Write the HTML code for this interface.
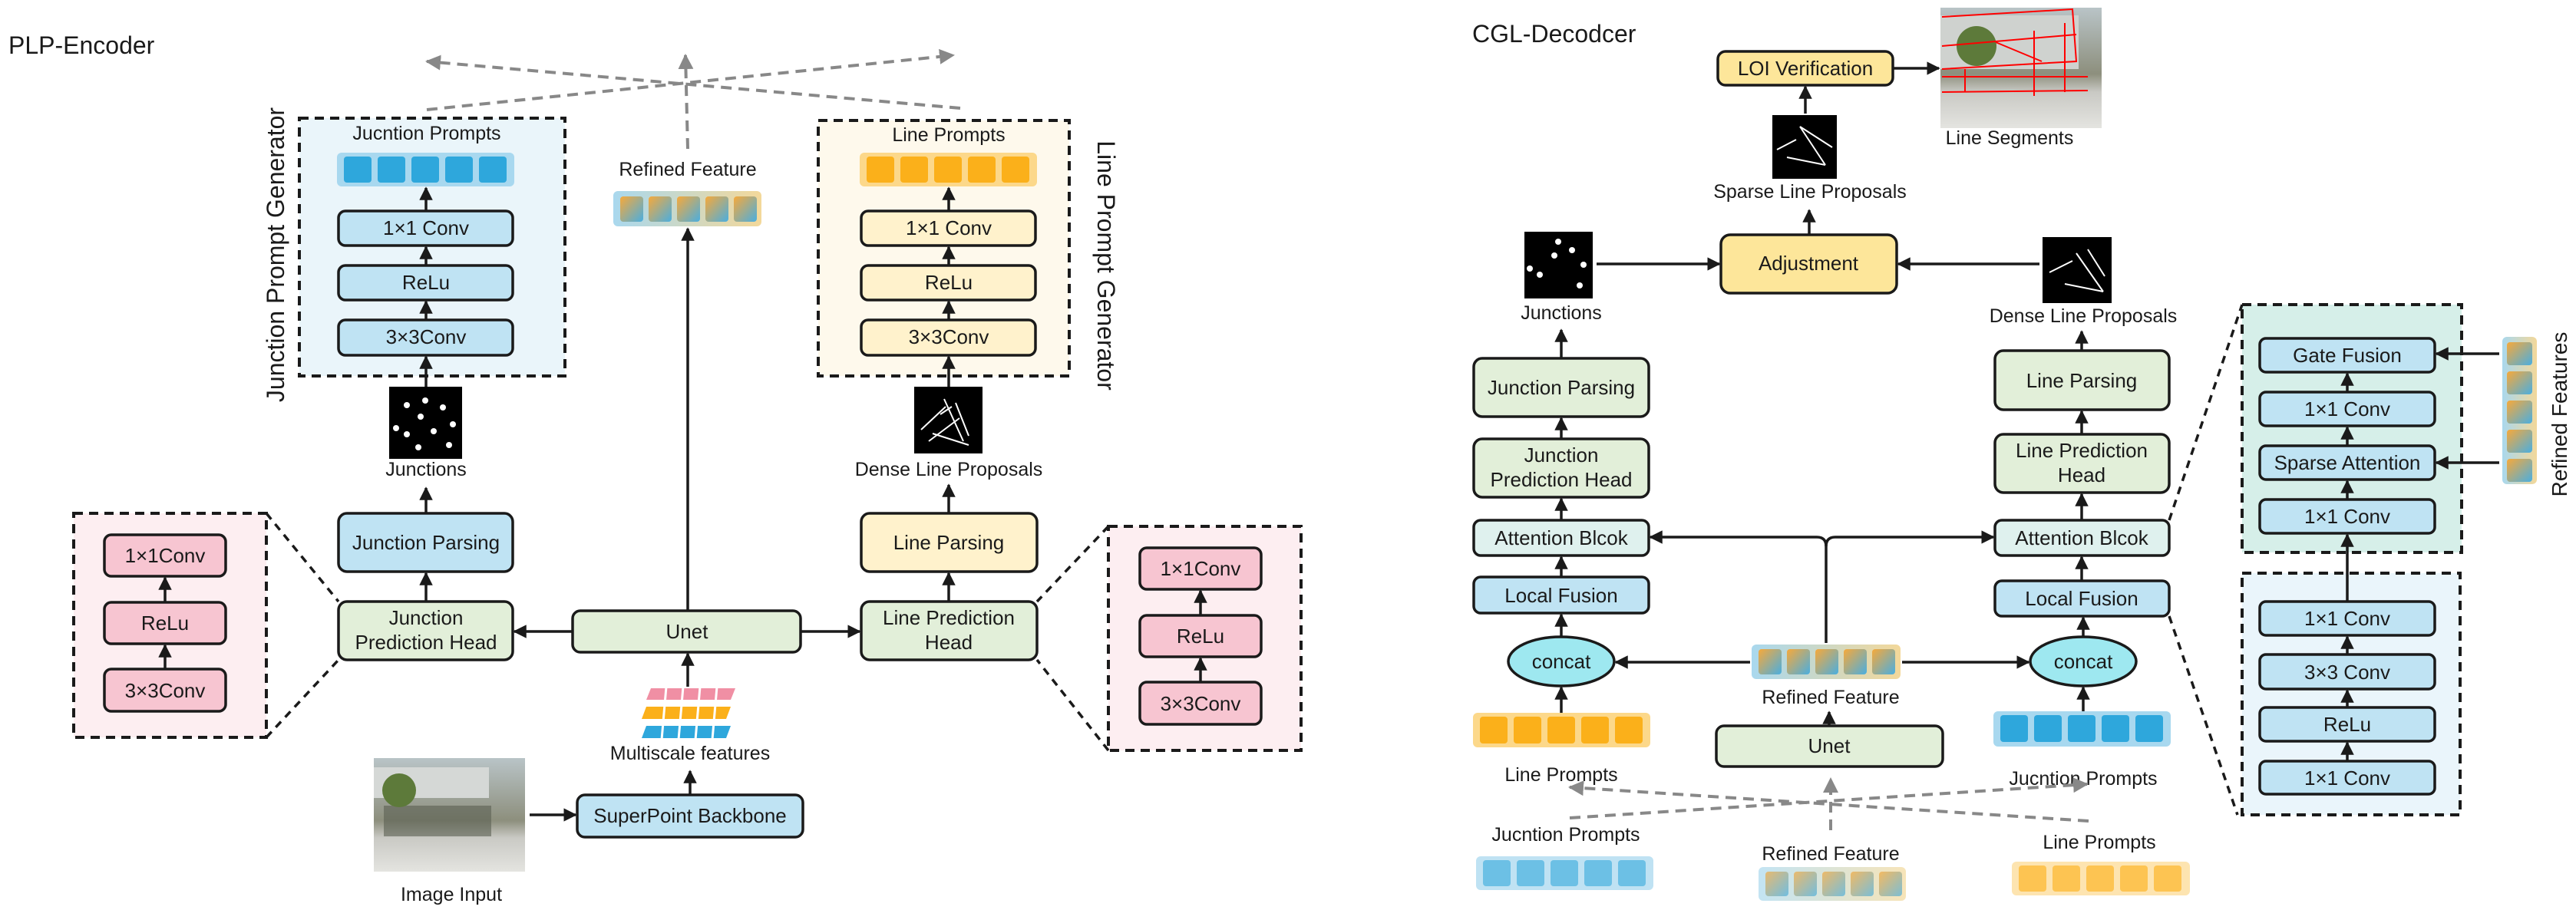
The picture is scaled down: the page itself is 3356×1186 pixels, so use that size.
<!DOCTYPE html>
<html><head><meta charset="utf-8"><style>
html,body{margin:0;padding:0;background:#fff}
svg{display:block}
text{font-family:"Liberation Sans",sans-serif;fill:#1a1a1a}
</style></head><body>
<svg width="3356" height="1186" viewBox="0 0 3356 1186" xmlns="http://www.w3.org/2000/svg">
<defs>
<marker id="a" viewBox="0 0 10 10" refX="9" refY="5" markerWidth="5" markerHeight="5" orient="auto-start-reverse"><path d="M0,0L10,5L0,10z" fill="#1a1a1a"/></marker>
<marker id="g" viewBox="0 0 10 10" refX="9" refY="5" markerWidth="5" markerHeight="5" orient="auto-start-reverse"><path d="M0,0L10,5L0,10z" fill="#888"/></marker>
<linearGradient id="rf" x1="0" y1="0" x2="1" y2="1"><stop offset="0" stop-color="#f7a93a"/><stop offset="1" stop-color="#4aaee0"/></linearGradient>
<linearGradient id="rfb" x1="0" y1="0" x2="1" y2="0"><stop offset="0" stop-color="#a9d8ee"/><stop offset="1" stop-color="#f3d89a"/></linearGradient>
<linearGradient id="ph" x1="0" y1="0" x2="0" y2="1"><stop offset="0" stop-color="#b9c4c7"/><stop offset="0.55" stop-color="#8d8f7d"/><stop offset="0.7" stop-color="#c9c9c4"/><stop offset="1" stop-color="#e4e4e0"/></linearGradient>
</defs>

<text x="11" y="70" font-size="32">PLP-Encoder</text>
<text x="1918" y="55" font-size="32">CGL-Decodcer</text>

<!-- Top dashed arrows left -->
<g stroke="#888" stroke-width="4" stroke-dasharray="14,9" fill="none">
<line x1="1251" y1="141" x2="556" y2="80" marker-end="url(#g)"/>
<line x1="556" y1="143" x2="1242" y2="72" marker-end="url(#g)"/>
<line x1="896" y1="194" x2="893" y2="72" marker-end="url(#g)"/>
</g>

<!-- Junction Prompt Generator -->
<rect x="390" y="154" width="346" height="336" fill="#eaf5fa" stroke="#1a1a1a" stroke-width="4" stroke-dasharray="12,8"/>
<text x="556" y="182" font-size="25" text-anchor="middle">Jucntion Prompts</text>
<rect x="439" y="199" width="231" height="44" rx="6" fill="#a8d8ef"/>
<g fill="#2ea7dc"><rect x="448" y="204" width="36" height="34" rx="4"/><rect x="492" y="204" width="36" height="34" rx="4"/><rect x="536" y="204" width="36" height="34" rx="4"/><rect x="580" y="204" width="36" height="34" rx="4"/><rect x="624" y="204" width="36" height="34" rx="4"/></g>
<g stroke="#1a1a1a" stroke-width="3.5">
<rect x="441" y="275" width="227" height="45" rx="9" fill="#bfe3f3"/>
<rect x="441" y="346" width="227" height="45" rx="9" fill="#bfe3f3"/>
<rect x="441" y="417" width="227" height="46" rx="9" fill="#bfe3f3"/>
</g>
<text x="555" y="306" font-size="26" text-anchor="middle">1×1 Conv</text>
<text x="555" y="377" font-size="26" text-anchor="middle">ReLu</text>
<text x="555" y="448" font-size="26" text-anchor="middle">3×3Conv</text>
<text transform="translate(370,332) rotate(-90)" font-size="32" text-anchor="middle">Junction Prompt Generator</text>

<!-- Line Prompt Generator -->
<rect x="1066" y="157" width="327" height="333" fill="#fef9ec" stroke="#1a1a1a" stroke-width="4" stroke-dasharray="12,8"/>
<text x="1236" y="184" font-size="25" text-anchor="middle">Line Prompts</text>
<rect x="1120" y="199" width="231" height="44" rx="6" fill="#fcd88a"/>
<g fill="#fbb01a"><rect x="1129" y="204" width="36" height="34" rx="4"/><rect x="1173" y="204" width="36" height="34" rx="4"/><rect x="1217" y="204" width="36" height="34" rx="4"/><rect x="1261" y="204" width="36" height="34" rx="4"/><rect x="1305" y="204" width="36" height="34" rx="4"/></g>
<g stroke="#1a1a1a" stroke-width="3.5">
<rect x="1122" y="275" width="227" height="45" rx="9" fill="#fff2cc"/>
<rect x="1122" y="346" width="227" height="45" rx="9" fill="#fff2cc"/>
<rect x="1122" y="417" width="227" height="46" rx="9" fill="#fff2cc"/>
</g>
<text x="1236" y="306" font-size="26" text-anchor="middle">1×1 Conv</text>
<text x="1236" y="377" font-size="26" text-anchor="middle">ReLu</text>
<text x="1236" y="448" font-size="26" text-anchor="middle">3×3Conv</text>
<text transform="translate(1430,346) rotate(90)" font-size="32" text-anchor="middle">Line Prompt Generator</text>

<!-- Refined feature left -->
<text x="896" y="229" font-size="25" text-anchor="middle">Refined Feature</text>
<rect x="799" y="249" width="193" height="46" rx="6" fill="url(#rfb)"/>
<g fill="url(#rf)"><rect x="808" y="256" width="30" height="33" rx="4"/><rect x="845" y="256" width="30" height="33" rx="4"/><rect x="882" y="256" width="30" height="33" rx="4"/><rect x="919" y="256" width="30" height="33" rx="4"/><rect x="956" y="256" width="30" height="33" rx="4"/></g>

<!-- Images left -->
<rect x="507" y="504" width="95" height="94" fill="#000"/>
<g fill="#fff"><circle cx="530" cy="528" r="4"/><circle cx="554" cy="522" r="4"/><circle cx="577" cy="531" r="4"/><circle cx="548" cy="543" r="4"/><circle cx="590" cy="553" r="4"/><circle cx="516" cy="558" r="4"/><circle cx="530" cy="566" r="4"/><circle cx="565" cy="562" r="4"/><circle cx="545" cy="583" r="4"/><circle cx="585" cy="580" r="4"/></g>
<text x="555" y="620" font-size="25" text-anchor="middle">Junctions</text>
<rect x="1191" y="504" width="89" height="87" fill="#000"/>
<g stroke="#fff" stroke-width="2"><line x1="1200" y1="560" x2="1232" y2="530"/><line x1="1230" y1="520" x2="1255" y2="575"/><line x1="1215" y1="565" x2="1262" y2="580"/><line x1="1245" y1="525" x2="1262" y2="568"/><line x1="1210" y1="575" x2="1250" y2="545"/><line x1="1225" y1="540" x2="1240" y2="530"/></g>
<text x="1236" y="620" font-size="25" text-anchor="middle">Dense Line Proposals</text>

<!-- Parsing / heads -->
<g stroke="#1a1a1a" stroke-width="3.5">
<rect x="441" y="669" width="227" height="76" rx="11" fill="#bfe3f3"/>
<rect x="441" y="784" width="227" height="76" rx="11" fill="#e2efd9"/>
<rect x="1122" y="669" width="229" height="76" rx="11" fill="#fff2cc"/>
<rect x="1122" y="784" width="229" height="76" rx="11" fill="#e2efd9"/>
<rect x="746" y="796" width="297" height="54" rx="10" fill="#e2efd9"/>
<rect x="752" y="1036" width="294" height="55" rx="10" fill="#bfe3f3"/>
</g>
<text x="555" y="716" font-size="26" text-anchor="middle">Junction Parsing</text>
<text x="555" y="814" font-size="26" text-anchor="middle">Junction</text>
<text x="555" y="846" font-size="26" text-anchor="middle">Prediction Head</text>
<text x="1236" y="716" font-size="26" text-anchor="middle">Line Parsing</text>
<text x="1236" y="814" font-size="26" text-anchor="middle">Line Prediction</text>
<text x="1236" y="846" font-size="26" text-anchor="middle">Head</text>
<text x="895" y="832" font-size="26" text-anchor="middle">Unet</text>
<text x="899" y="1072" font-size="26" text-anchor="middle">SuperPoint Backbone</text>

<!-- Pink side boxes -->
<rect x="96" y="669" width="251" height="292" fill="#fdeef1" stroke="#1a1a1a" stroke-width="4" stroke-dasharray="12,8"/>
<rect x="1444" y="686" width="251" height="292" fill="#fdeef1" stroke="#1a1a1a" stroke-width="4" stroke-dasharray="12,8"/>
<g stroke="#1a1a1a" stroke-width="3.5" fill="#f7c5d1">
<rect x="136" y="697" width="158" height="54" rx="9"/><rect x="136" y="785" width="158" height="54" rx="9"/><rect x="136" y="872" width="158" height="55" rx="9"/>
<rect x="1485" y="714" width="158" height="54" rx="9"/><rect x="1485" y="802" width="158" height="54" rx="9"/><rect x="1485" y="889" width="158" height="55" rx="9"/>
</g>
<g font-size="26" text-anchor="middle">
<text x="215" y="733">1×1Conv</text><text x="215" y="821">ReLu</text><text x="215" y="909">3×3Conv</text>
<text x="1564" y="750">1×1Conv</text><text x="1564" y="838">ReLu</text><text x="1564" y="926">3×3Conv</text>
</g>
<g stroke="#1a1a1a" stroke-width="3.5" stroke-dasharray="10,8">
<line x1="347" y1="669" x2="441" y2="784"/><line x1="347" y1="961" x2="441" y2="860"/>
<line x1="1444" y1="686" x2="1351" y2="784"/><line x1="1444" y1="978" x2="1351" y2="860"/>
</g>

<!-- Multiscale -->
<g transform="translate(0,0)">
<g fill="#f08fa4"><polygon points="848,897 958,897 952,912 842,912"/></g>
<g fill="#fbb01a"><polygon points="842,921 952,921 946,937 836,937"/></g>
<g fill="#2ea7dc"><polygon points="842,946 952,946 946,962 836,962"/></g>
<g stroke="#fff" stroke-width="3"><line x1="868" y1="895" x2="862" y2="964"/><line x1="890" y1="895" x2="884" y2="964"/><line x1="912" y1="895" x2="906" y2="964"/><line x1="934" y1="895" x2="928" y2="964"/></g>
</g>
<text x="899" y="990" font-size="25" text-anchor="middle">Multiscale features</text>

<!-- Image input -->
<rect x="487" y="988" width="197" height="148" fill="url(#ph)"/>
<rect x="487" y="1000" width="150" height="40" fill="#d5d8d6"/>
<rect x="500" y="1050" width="140" height="40" fill="#5a5f52" opacity="0.6"/>
<circle cx="520" cy="1030" r="22" fill="#5d7a3a"/>
<text x="588" y="1174" font-size="25" text-anchor="middle">Image Input</text>

<!-- left arrows -->
<g stroke="#1a1a1a" stroke-width="3.5" marker-end="url(#a)" fill="none">
<line x1="555" y1="275" x2="555" y2="245"/><line x1="555" y1="346" x2="555" y2="322"/><line x1="555" y1="417" x2="555" y2="393"/><line x1="555" y1="504" x2="555" y2="465"/>
<line x1="555" y1="669" x2="555" y2="636"/><line x1="555" y1="784" x2="555" y2="747"/>
<line x1="1236" y1="275" x2="1236" y2="245"/><line x1="1236" y1="346" x2="1236" y2="322"/><line x1="1236" y1="417" x2="1236" y2="393"/><line x1="1236" y1="504" x2="1236" y2="465"/>
<line x1="1236" y1="669" x2="1236" y2="632"/><line x1="1236" y1="784" x2="1236" y2="747"/>
<line x1="215" y1="785" x2="215" y2="753"/><line x1="215" y1="872" x2="215" y2="841"/>
<line x1="1564" y1="802" x2="1564" y2="770"/><line x1="1564" y1="889" x2="1564" y2="858"/>
<line x1="896" y1="796" x2="896" y2="298"/>
<line x1="746" y1="823" x2="670" y2="823"/><line x1="1043" y1="823" x2="1120" y2="823"/>
<line x1="896" y1="895" x2="896" y2="852"/><line x1="899" y1="1036" x2="899" y2="1005"/>
<line x1="690" y1="1062" x2="750" y2="1062"/>
</g>

<!-- ============ RIGHT PANEL ============ -->
<g stroke="#1a1a1a" stroke-width="3.5">
<rect x="2238" y="67" width="228" height="44" rx="10" fill="#fde69a"/>
<rect x="2242" y="306" width="229" height="76" rx="12" fill="#fde69a"/>
</g>
<text x="2352" y="98" font-size="26" text-anchor="middle">LOI Verification</text>
<text x="2356" y="352" font-size="26" text-anchor="middle">Adjustment</text>

<!-- line segments photo -->
<rect x="2528" y="10" width="210" height="157" fill="url(#ph)"/>
<rect x="2528" y="20" width="180" height="70" fill="#cfd2cf"/>
<circle cx="2575" cy="60" r="26" fill="#5d7a3a"/>
<g stroke="#f00" stroke-width="2" fill="none"><polyline points="2530,22 2700,12 2705,80 2530,90"/><line x1="2530" y1="60" x2="2705" y2="45"/><line x1="2530" y1="100" x2="2720" y2="100"/><line x1="2530" y1="120" x2="2720" y2="118"/><line x1="2650" y1="40" x2="2650" y2="125"/><line x1="2690" y1="30" x2="2690" y2="120"/><line x1="2600" y1="55" x2="2660" y2="80"/><line x1="2560" y1="90" x2="2560" y2="120"/></g>
<text x="2618" y="188" font-size="25" text-anchor="middle">Line Segments</text>

<rect x="2309" y="150" width="84" height="83" fill="#000"/>
<g stroke="#fff" stroke-width="2"><line x1="2315" y1="195" x2="2340" y2="182"/><line x1="2345" y1="165" x2="2378" y2="215"/><line x1="2345" y1="165" x2="2387" y2="192"/><line x1="2328" y1="205" x2="2378" y2="215"/></g>
<text x="2358" y="258" font-size="25" text-anchor="middle">Sparse Line Proposals</text>

<rect x="1986" y="302" width="89" height="87" fill="#000"/>
<g fill="#fff"><circle cx="2030" cy="315" r="4"/><circle cx="2048" cy="326" r="4"/><circle cx="2025" cy="333" r="4"/><circle cx="2063" cy="345" r="4"/><circle cx="1993" cy="350" r="4"/><circle cx="2006" cy="358" r="4"/><circle cx="2058" cy="372" r="4"/></g>
<text x="2034" y="416" font-size="25" text-anchor="middle">Junctions</text>
<rect x="2661" y="309" width="90" height="86" fill="#000"/>
<g stroke="#fff" stroke-width="2"><line x1="2670" y1="355" x2="2700" y2="340"/><line x1="2705" y1="330" x2="2740" y2="380"/><line x1="2720" y1="325" x2="2742" y2="360"/><line x1="2690" y1="370" x2="2740" y2="380"/></g>
<text x="2714" y="420" font-size="25" text-anchor="middle">Dense Line Proposals</text>

<g stroke="#1a1a1a" stroke-width="3.5">
<rect x="1920" y="467" width="228" height="76" rx="11" fill="#e2efd9"/>
<rect x="1920" y="572" width="228" height="76" rx="11" fill="#e2efd9"/>
<rect x="1920" y="678" width="228" height="46" rx="9" fill="#dff1ee"/>
<rect x="1920" y="752" width="228" height="47" rx="9" fill="#bfe3f3"/>
<ellipse cx="2034" cy="862" rx="69" ry="32" fill="#9ee8f0"/>
<rect x="2599" y="457" width="227" height="77" rx="11" fill="#e2efd9"/>
<rect x="2599" y="566" width="227" height="76" rx="11" fill="#e2efd9"/>
<rect x="2599" y="678" width="227" height="46" rx="9" fill="#dff1ee"/>
<rect x="2599" y="757" width="227" height="46" rx="9" fill="#bfe3f3"/>
<ellipse cx="2714" cy="862" rx="69" ry="32" fill="#9ee8f0"/>
<rect x="2236" y="946" width="295" height="53" rx="10" fill="#e2efd9"/>
</g>
<g font-size="26" text-anchor="middle">
<text x="2034" y="514">Junction Parsing</text>
<text x="2034" y="602">Junction</text><text x="2034" y="634">Prediction Head</text>
<text x="2034" y="710">Attention Blcok</text>
<text x="2034" y="785">Local Fusion</text>
<text x="2034" y="871">concat</text>
<text x="2712" y="505">Line Parsing</text>
<text x="2712" y="596">Line Prediction</text><text x="2712" y="628">Head</text>
<text x="2712" y="710">Attention Blcok</text>
<text x="2712" y="789">Local Fusion</text>
<text x="2714" y="871">concat</text>
<text x="2383" y="981">Unet</text>
</g>

<!-- prompt bars -->
<rect x="1919" y="929" width="231" height="45" rx="6" fill="#fcd88a"/>
<g fill="#fbb01a"><rect x="1928" y="934" width="36" height="35" rx="4"/><rect x="1972" y="934" width="36" height="35" rx="4"/><rect x="2016" y="934" width="36" height="35" rx="4"/><rect x="2060" y="934" width="36" height="35" rx="4"/><rect x="2104" y="934" width="36" height="35" rx="4"/></g>
<text x="2034" y="1018" font-size="25" text-anchor="middle">Line Prompts</text>
<rect x="2597" y="927" width="231" height="46" rx="6" fill="#a8d8ef"/>
<g fill="#2ea7dc"><rect x="2606" y="932" width="36" height="35" rx="4"/><rect x="2650" y="932" width="36" height="35" rx="4"/><rect x="2694" y="932" width="36" height="35" rx="4"/><rect x="2738" y="932" width="36" height="35" rx="4"/><rect x="2782" y="932" width="36" height="35" rx="4"/></g>
<text x="2714" y="1023" font-size="25" text-anchor="middle">Jucntion Prompts</text>

<rect x="2282" y="840" width="194" height="45" rx="6" fill="url(#rfb)"/>
<g fill="url(#rf)"><rect x="2291" y="846" width="30" height="33" rx="4"/><rect x="2328" y="846" width="30" height="33" rx="4"/><rect x="2365" y="846" width="30" height="33" rx="4"/><rect x="2402" y="846" width="30" height="33" rx="4"/><rect x="2439" y="846" width="30" height="33" rx="4"/></g>
<text x="2385" y="917" font-size="25" text-anchor="middle">Refined Feature</text>

<!-- bottom dashed -->
<g stroke="#888" stroke-width="4" stroke-dasharray="14,9" fill="none">
<line x1="2721" y1="1070" x2="2045" y2="1026" marker-end="url(#g)"/>
<line x1="2045" y1="1066" x2="2719" y2="1022" marker-end="url(#g)"/>
<line x1="2385" y1="1082" x2="2385" y2="1015" marker-end="url(#g)"/>
</g>
<text x="2040" y="1096" font-size="25" text-anchor="middle">Jucntion Prompts</text>
<rect x="1923" y="1116" width="231" height="44" rx="6" fill="#bfe2f3"/>
<g fill="#6cc0e5"><rect x="1932" y="1121" width="36" height="34" rx="4"/><rect x="1976" y="1121" width="36" height="34" rx="4"/><rect x="2020" y="1121" width="36" height="34" rx="4"/><rect x="2064" y="1121" width="36" height="34" rx="4"/><rect x="2108" y="1121" width="36" height="34" rx="4"/></g>
<text x="2385" y="1121" font-size="25" text-anchor="middle">Refined Feature</text>
<rect x="2291" y="1130" width="192" height="44" rx="6" fill="url(#rfb)" opacity="0.7"/>
<g fill="url(#rf)" opacity="0.7"><rect x="2300" y="1136" width="30" height="32" rx="4"/><rect x="2337" y="1136" width="30" height="32" rx="4"/><rect x="2374" y="1136" width="30" height="32" rx="4"/><rect x="2411" y="1136" width="30" height="32" rx="4"/><rect x="2448" y="1136" width="30" height="32" rx="4"/></g>
<text x="2735" y="1106" font-size="25" text-anchor="middle">Line Prompts</text>
<rect x="2621" y="1123" width="232" height="44" rx="6" fill="#fde4b0"/>
<g fill="#fdc452"><rect x="2630" y="1128" width="36" height="34" rx="4"/><rect x="2674" y="1128" width="36" height="34" rx="4"/><rect x="2718" y="1128" width="36" height="34" rx="4"/><rect x="2762" y="1128" width="36" height="34" rx="4"/><rect x="2806" y="1128" width="36" height="34" rx="4"/></g>

<!-- Sparse attention detail boxes -->
<rect x="2921" y="397" width="286" height="323" fill="#d6efe9" stroke="#1a1a1a" stroke-width="4" stroke-dasharray="12,8"/>
<rect x="2921" y="747" width="284" height="315" fill="#eaf5fb" stroke="#1a1a1a" stroke-width="4" stroke-dasharray="12,8"/>
<g stroke="#1a1a1a" stroke-width="3.5" fill="#bfe3f3">
<rect x="2944" y="441" width="228" height="44" rx="8"/><rect x="2944" y="511" width="228" height="44" rx="8"/><rect x="2944" y="581" width="228" height="44" rx="8"/><rect x="2944" y="651" width="228" height="44" rx="8"/>
<rect x="2944" y="784" width="228" height="44" rx="8"/><rect x="2944" y="853" width="228" height="45" rx="8"/><rect x="2944" y="922" width="228" height="44" rx="8"/><rect x="2944" y="992" width="228" height="43" rx="8"/>
</g>
<g font-size="26" text-anchor="middle">
<text x="3058" y="472">Gate Fusion</text><text x="3058" y="542">1×1 Conv</text><text x="3058" y="612">Sparse Attention</text><text x="3058" y="682">1×1 Conv</text>
<text x="3058" y="815">1×1 Conv</text><text x="3058" y="885">3×3 Conv</text><text x="3058" y="953">ReLu</text><text x="3058" y="1023">1×1 Conv</text>
</g>
<rect x="3260" y="439" width="45" height="192" rx="6" fill="url(#rfb)"/>
<g fill="url(#rf)"><rect x="3266" y="446" width="33" height="30" rx="4"/><rect x="3266" y="484" width="33" height="30" rx="4"/><rect x="3266" y="522" width="33" height="30" rx="4"/><rect x="3266" y="560" width="33" height="30" rx="4"/><rect x="3266" y="598" width="33" height="30" rx="4"/></g>
<text transform="translate(3344,540) rotate(-90)" font-size="28" text-anchor="middle">Refined Features</text>
<g stroke="#1a1a1a" stroke-width="3.5" stroke-dasharray="10,8">
<line x1="2826" y1="678" x2="2921" y2="397"/><line x1="2826" y1="803" x2="2915" y2="1062"/>
</g>

<!-- right arrows -->
<g stroke="#1a1a1a" stroke-width="3.5" marker-end="url(#a)" fill="none">
<line x1="2466" y1="89" x2="2526" y2="89"/>
<line x1="2352" y1="148" x2="2352" y2="113"/>
<line x1="2357" y1="306" x2="2357" y2="274"/>
<line x1="2080" y1="344" x2="2240" y2="344"/>
<line x1="2657" y1="344" x2="2473" y2="344"/>
<line x1="2034" y1="467" x2="2034" y2="430"/><line x1="2034" y1="572" x2="2034" y2="545"/><line x1="2034" y1="678" x2="2034" y2="650"/><line x1="2034" y1="752" x2="2034" y2="726"/><line x1="2034" y1="830" x2="2034" y2="801"/><line x1="2034" y1="929" x2="2034" y2="896"/>
<line x1="2712" y1="457" x2="2712" y2="432"/><line x1="2712" y1="566" x2="2712" y2="536"/><line x1="2712" y1="678" x2="2712" y2="644"/><line x1="2712" y1="757" x2="2712" y2="726"/><line x1="2714" y1="830" x2="2714" y2="805"/><line x1="2714" y1="927" x2="2714" y2="896"/>
<line x1="2280" y1="863" x2="2105" y2="863"/><line x1="2478" y1="863" x2="2643" y2="863"/>
<line x1="2383" y1="946" x2="2383" y2="928"/>
<path d="M2379,838 V712 Q2379,700 2367,700 H2150"/>
<path d="M2379,712 Q2379,700 2391,700 H2597"/>
<line x1="3058" y1="511" x2="3058" y2="487"/><line x1="3058" y1="581" x2="3058" y2="557"/><line x1="3058" y1="651" x2="3058" y2="627"/>
<line x1="3058" y1="784" x2="3058" y2="697"/>
<line x1="3058" y1="853" x2="3058" y2="830"/><line x1="3058" y1="922" x2="3058" y2="900"/><line x1="3058" y1="992" x2="3058" y2="968"/>
<line x1="3256" y1="461" x2="3174" y2="461"/><line x1="3256" y1="603" x2="3174" y2="603"/>
</g>
</svg>
</body></html>
